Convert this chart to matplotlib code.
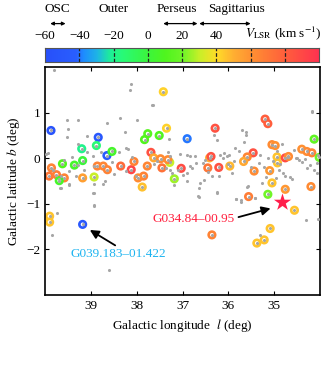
import numpy as np
import matplotlib
matplotlib.use('Agg')
import matplotlib.pyplot as plt
from matplotlib.colors import LinearSegmentedColormap, Normalize

plt.rcParams['font.family'] = ['Liberation Serif', 'DejaVu Serif']
plt.rcParams['mathtext.fontset'] = 'stix'
plt.rcParams['font.size'] = 9.5
FS = 9.5

# field sources (gray dots), l and b in deg
gray_l = [39.80, 38.13, 38.14, 39.53, 39.29, 39.49, 39.53, 38.64, 38.36, 38.26, 38.00,
          39.28, 39.09, 39.93, 38.95, 38.77, 38.38, 38.20, 39.59, 39.82, 39.65, 39.47,
          39.33, 39.47, 39.67, 38.94, 38.69, 38.74, 38.94, 38.49, 38.24, 38.02, 38.93,
          39.74, 39.84, 39.29, 39.15, 38.93, 39.98, 39.09, 37.66, 38.24, 39.65, 39.47,
          38.95, 38.93, 38.60, 37.64, 37.30, 37.32, 37.27, 37.05, 36.90, 36.84, 36.72,
          36.70, 36.83, 36.90, 36.90, 36.62, 36.64, 36.54, 36.26, 36.64, 36.32, 36.26,
          36.19, 36.09, 36.12, 36.04, 36.36, 36.21, 36.50, 37.37, 37.27, 37.23, 37.10,
          37.55, 37.62, 36.80, 34.18, 35.61, 35.61, 35.85, 35.78, 35.99, 35.31, 35.14,
          34.83, 34.58, 34.69, 34.51, 34.45, 34.33, 34.28, 34.21, 34.13, 34.06, 34.04,
          34.07, 34.96, 34.81, 34.76, 34.62, 35.22, 35.34, 35.92, 35.51, 35.58, 35.83,
          35.72, 35.41, 34.30, 34.04, 35.31, 34.87, 34.90, 36.66, 36.26, 35.83, 35.73,
          35.41, 35.59, 34.17, 35.70, 35.66, 35.18, 35.02, 34.40, 34.52, 36.00, 35.88,
          36.45, 36.55, 37.00, 37.18, 39.70, 39.42, 38.55, 38.10, 35.27, 34.95, 34.65]
gray_b = [1.94, 1.62, 1.49, 0.83, 0.83, 0.64, 0.47, 0.77, 0.88, 0.58, 0.83,
          0.32, 0.13, 0.11, 0.06, 0.13, 0.14, 0.20, -0.03, -0.25, -0.38, -0.28,
          -0.38, -0.57, -0.66, -0.57, -0.50, -0.57, -0.77, -0.34, -0.28, -0.38, -1.03,
          -1.21, -1.68, -0.14, -0.25, -0.17, 0.10, 0.49, 1.16, 0.23, -0.66, -0.59,
          -0.76, -1.04, -2.44, 1.16, 0.42, 0.13, 0.06, 0.10, 0.08, 0.06, 0.06,
          -0.10, -0.16, -0.32, -0.50, -0.54, -0.65, -0.47, -0.76, -0.84, 0.51, 0.41,
          0.08, 0.12, 0.01, 0.06, -0.38, -0.38, -0.04, -0.21, -0.25, -0.32, -0.25,
          -0.05, -0.12, -0.22, 1.01, 0.57, 0.52, 0.23, 0.16, 0.08, 0.08, 0.01,
          0.32, 0.19, 0.03, 0.01, -0.03, -0.02, -0.21, -0.14, -0.25, -0.32, 0.08,
          -0.10, -0.43, -0.32, -0.38, -0.46, -0.18, -0.10, -0.33, -0.19, -0.61, -0.90,
          -0.92, -0.86, -1.35, -1.34, -1.68, -0.12, -0.25, -0.82, -0.75, -0.89, -0.95,
          -0.86, -0.62, 1.03, 0.62, 0.35, -0.40, -0.05, -0.08, 0.00, -0.12, -0.06,
          -0.30, -0.10, -0.36, -0.58, -0.45, 0.02, -0.08, 0.02, -0.55, 0.15, -0.40]

# detected sources (coloured circles), l, b (deg) and V_LSR (km/s)
src_l = [39.87, 38.84, 38.88, 39.20, 38.65, 38.54, 39.62, 39.36, 39.18, 39.86, 39.91,
         39.58, 39.75, 39.69, 39.18, 38.93, 38.86, 38.73, 38.64, 38.35, 38.12, 38.06,
         39.90, 39.90, 39.18, 37.42, 37.35, 37.76, 37.83, 37.51, 36.90, 37.69, 36.29,
         37.77, 37.85, 37.63, 37.48, 37.45, 37.88, 37.28, 37.18, 37.03, 36.45, 36.21,
         36.41, 36.38, 35.97, 36.36, 35.20, 35.14, 35.05, 34.98, 35.46, 35.59, 35.67,
         35.44, 34.94, 34.93, 34.76, 34.69, 35.10, 35.05, 34.76, 35.14, 35.56, 34.56,
         35.09, 35.22, 35.38, 34.40, 34.29, 34.18, 34.13, 34.02, 34.20, 37.97, 37.32]
src_b = [0.61, 0.46, 0.28, 0.21, 0.06, 0.15, -0.12, -0.15, -0.05, -0.21, -0.39,
         -0.43, -0.36, -0.49, -0.43, -0.41, -0.17, -0.17, -0.25, -0.17, -0.25, -0.07,
         -1.27, -1.40, -1.45, 1.46, 0.66, 0.54, 0.41, 0.50, 0.43, 0.13, 0.66,
         -0.17, -0.39, 0.01, -0.01, -0.21, -0.63, -0.09, -0.45, -0.22, -0.21, -0.20,
         0.01, 0.04, -0.17, -1.68, 0.86, 0.76, 0.30, 0.28, 0.12, 0.03, -0.07,
         -0.28, 0.03, -0.10, 0.01, 0.04, -0.27, -0.54, -0.68, -0.79, -0.84, -1.14,
         -1.54, -1.79, -1.86, 0.20, 0.15, 0.12, 0.42, 0.02, -0.62, -0.43, -0.03]
src_v = [-55, -50, -15, -20, -48, 5, 10, 5, 0, 65, 70,
         65, 68, 5, 55, 30, 65, 64, 66, 75, 90, 65,
         45, 45, -50, 42, 42, 12, 10, 10, -40, 85, 85,
         64, 66, 52, 62, 72, 46, 30, 25, 88, 70, 85,
         50, 85, 48, 65, 80, 80, 62, 60, 85, 64, 52,
         62, 45, 45, 88, 62, 58, 45, 58, 20, 68, 45,
         45, 45, 45, 60, 62, 65, 15, 20, 62, 62, 62]

# target maser and marked source
star_l, star_b = 34.84, -0.95
mark_l, mark_b = 39.183, -1.422

cmap = LinearSegmentedColormap.from_list('vlsr', [
    (0.0, '#2850fa'), (0.1125, '#2a5fff'), (0.1375, '#1e8cff'), (0.1875, '#1eb4e6'),
    (0.2375, '#1ef096'), (0.28, '#28fa78'), (0.375, '#3cf53c'), (0.4375, '#50f51e'),
    (0.5, '#6ef528'), (0.5625, '#c8f028'), (0.625, '#ffdc28'), (0.6875, '#ffaf32'),
    (0.75, '#ff9132'), (0.875, '#ff5f3c'), (1.0, '#ff3250')])
norm = Normalize(-60, 100)

fig = plt.figure(figsize=(3.24, 3.73), dpi=100)
ax = fig.add_axes([0.139, 0.209, 0.849, 0.611])

ax.scatter(src_l, src_b, s=22, facecolor='white', edgecolor=cmap(norm(np.array(src_v))),
           linewidth=1.9, zorder=2)
ax.scatter(gray_l + src_l, gray_b + src_b, s=5, color='#a6a6a6', linewidth=0, zorder=3)
ax.scatter([star_l], [star_b], marker='*', s=170, color='#ff1e4b', linewidth=0, zorder=4)

# labels and pointers (l axis is reversed)
ax.text(38.41, -2.10, 'G039.183\u201301.422', color='#1eb4f0', ha='center', va='center',
        fontsize=FS)
ax.annotate('', xy=(mark_l - 0.16, mark_b - 0.15), xytext=(38.47, -1.91),
            arrowprops=dict(arrowstyle='-|>', color='black', lw=1.3, mutation_scale=13,
                            shrinkA=0, shrinkB=0))
ax.text(36.77, -1.33, 'G034.84\u201300.95', color='#ff1e3c', ha='center', va='center',
        fontsize=FS)
ax.annotate('', xy=(star_l + 0.24, star_b - 0.15), xytext=(35.78, -1.29),
            arrowprops=dict(arrowstyle='-|>', color='black', lw=1.3, mutation_scale=13,
                            shrinkA=0, shrinkB=0))

ax.set_xlim(40, 34)
ax.set_ylim(-3, 2)
ax.set_xticks([39, 38, 37, 36, 35])
ax.set_yticks([-2, -1, 0, 1])
ax.set_yticklabels(['\u22122', '\u22121', '0', '1'])
ax.tick_params(direction='in', top=True, right=True, length=3, width=0.8, labelsize=FS)
for s in ax.spines.values():
    s.set_linewidth(1.2)
ax.set_xlabel('Galactic longitude  $l$ (deg)', fontsize=FS, labelpad=4)
ax.set_ylabel('Galactic latitude $b$ (deg)', fontsize=FS, labelpad=3)

# colour bar on top
cax = fig.add_axes([0.139, 0.835, 0.846, 0.037])
grad = np.linspace(-60, 100, 400).reshape(1, -1)
cax.imshow(grad, cmap=cmap, norm=norm, aspect='auto', extent=(-60, 100, 0, 1))
for v in [-40, -20, 0, 20, 40, 60, 80]:
    cax.axvline(v, color='#222222', lw=0.9, ls=(0, (3, 1.5)))
cax.set_xlim(-60, 100)
cax.set_yticks([])
cax.set_xticks([-60, -40, -20, 0, 20, 40])
cax.set_xticklabels(['\u221260', '\u221240', '\u221220', '0', '20', '40'])
cax.xaxis.set_ticks_position('top')
cax.tick_params(length=0, pad=4, labelsize=FS)
for s in cax.spines.values():
    s.set_linewidth(0.8)
    s.set_color('#555555')
cax.text(79, 1.45, '$V_{\\rm LSR}$ (km s$^{-1}$)', ha='center', va='bottom', fontsize=FS)

# spiral arm ranges
arms = ['OSC', 'Outer', 'Perseus', 'Sagittarius']
arm_x = [-53, -20, 17, 52]
arm_ranges = [(-57, -48), None, (9, 29), (30, 60)]
for name, x, rng in zip(arms, arm_x, arm_ranges):
    cax.text(x, 3.35, name, ha='center', va='bottom', fontsize=FS, transform=cax.transData,
             clip_on=False)
    if rng is not None:
        cax.annotate('', xy=(rng[0], 2.75), xytext=(rng[1], 2.75), xycoords='data',
                     arrowprops=dict(arrowstyle='<|-|>', color='black', lw=0.9,
                                     mutation_scale=5, shrinkA=0, shrinkB=0),
                     annotation_clip=False)

fig.savefig('out.png', dpi=100)
